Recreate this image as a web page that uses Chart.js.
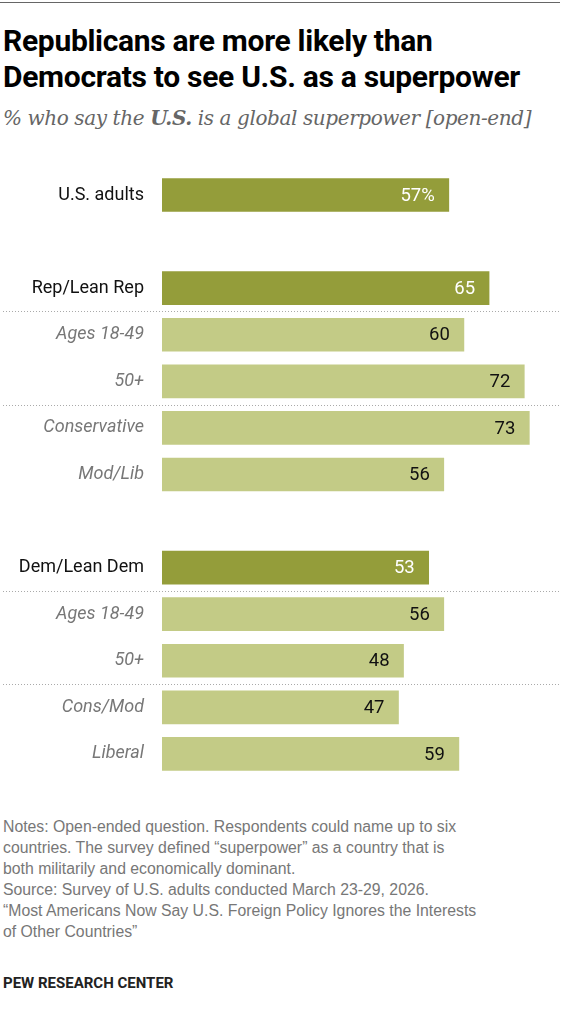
<!DOCTYPE html>
<html>
<head>
<meta charset="utf-8">
<script src="https://cdn.jsdelivr.net/npm/chart.js@4/dist/chart.umd.min.js"></script>
<style>
  body { margin: 0; width: 565px; height: 1024px; background: #fff; position: relative; font-family: Roboto, "Liberation Sans", sans-serif; }
  .topline { position: absolute; left: 0; top: 2px; width: 560px; border-top: 1px solid #666; }
  h1 { position: absolute; left: 3px; top: 23px; margin: 0; font-size: 30px; line-height: 36px; font-weight: bold; color: #000; letter-spacing: -0.3px; white-space: nowrap; }
  .sub { position: absolute; left: 3px; top: 106px; font-family: "DejaVu Serif", serif; font-style: italic; font-size: 20px; color: #666; letter-spacing: -0.4px; white-space: nowrap; }
  .chart { position: absolute; left: 0; top: 150px; width: 565px; height: 648px; }
  .notes { position: absolute; left: 3px; top: 816px; width: 560px; font-family: "Liberation Sans", Arial, sans-serif; font-size: 15.8px; line-height: 21px; color: #777; white-space: nowrap; }
  .pew { position: absolute; left: 3px; top: 974px; font-size: 15px; font-weight: bold; color: #222; }
</style>
</head>
<body>
<div class="topline"></div>
<h1>Republicans are more likely than<br>Democrats to see U.S. as a superpower</h1>
<div class="sub">% who say the <b>U.S.</b> is a global superpower [open-end]</div>
<div class="chart"><canvas id="c"></canvas></div>
<div class="notes">Notes: Open-ended question. Respondents could name up to six<br>countries. The survey defined “superpower” as a country that is<br>both militarily and economically dominant.<br>Source: Survey of U.S. adults conducted March 23-29, 2026.<br>“Most Americans Now Say U.S. Foreign Policy Ignores the Interests<br>of Other Countries”</div>
<div class="pew">PEW RESEARCH CENTER</div>
<script>
// rows, blanks used as spacers between groups
const categories = ['U.S. adults', '', 'Rep/Lean Rep', 'Ages 18-49', '50+', 'Conservative', 'Mod/Lib', '', 'Dem/Lean Dem', 'Ages 18-49', '50+', 'Cons/Mod', 'Liberal'];
const values = [57, null, 65, 60, 72, 73, 56, null, 53, 56, 48, 47, 59];
const valueLabels = ['57%', '', '65', '60', '72', '73', '56', '', '53', '56', '48', '47', '59'];
const mainRows = [0, 2, 8];
const dividersAfter = [2, 4, 8, 10];

const dark = '#949d3a';
const light = '#c3cb86';

const extras = {
    id: 'extras',
    afterDatasetsDraw(chart) {
        const ctx = chart.ctx;
        const y = chart.scales.y;
        const meta = chart.getDatasetMeta(0);
        ctx.save();
        // dotted separators
        ctx.strokeStyle = '#aaa';
        ctx.lineWidth = 1;
        ctx.setLineDash([1, 2]);
        dividersAfter.forEach(i => {
            const py = Math.round((y.getPixelForValue(i) + y.getPixelForValue(i + 1)) / 2) + 0.5;
            ctx.beginPath();
            ctx.moveTo(3, py);
            ctx.lineTo(560, py);
            ctx.stroke();
        });
        ctx.setLineDash([]);
        // value labels inside bars
        ctx.font = '18.5px Roboto, sans-serif';
        ctx.textAlign = 'right';
        ctx.textBaseline = 'middle';
        meta.data.forEach((bar, i) => {
            if (values[i] == null) return;
            ctx.fillStyle = mainRows.includes(i) ? '#fff' : '#111';
            ctx.fillText(valueLabels[i], bar.x - 14, bar.y + 1);
        });
        ctx.restore();
    }
};

new Chart(document.getElementById('c'), {
    type: 'bar',
    data: {
        labels: categories,
        datasets: [{
            data: values,
            backgroundColor: values.map((v, i) => mainRows.includes(i) ? dark : light),
            barThickness: 33,
            borderWidth: 0
        }]
    },
    options: {
        indexAxis: 'y',
        responsive: true,
        maintainAspectRatio: false,
        animation: false,
        layout: { padding: { top: 21.75, bottom: 4, right: 8, left: 0 } },
        plugins: { legend: { display: false }, tooltip: { enabled: false } },
        scales: {
            x: {
                min: 0,
                max: 78.5,
                display: false
            },
            y: {
                grid: { display: false, drawBorder: false },
                border: { display: false },
                afterFit(scale) { scale.width = 162; },
                ticks: {
                    padding: 10,
                    color: ctx => mainRows.includes(ctx.index) ? '#111' : '#777',
                    font: ctx => mainRows.includes(ctx.index)
                        ? { family: 'Roboto', size: 18 }
                        : { family: 'Roboto', size: 18, style: 'italic' }
                }
            }
        }
    },
    plugins: [extras]
});
</script>
</body>
</html>
